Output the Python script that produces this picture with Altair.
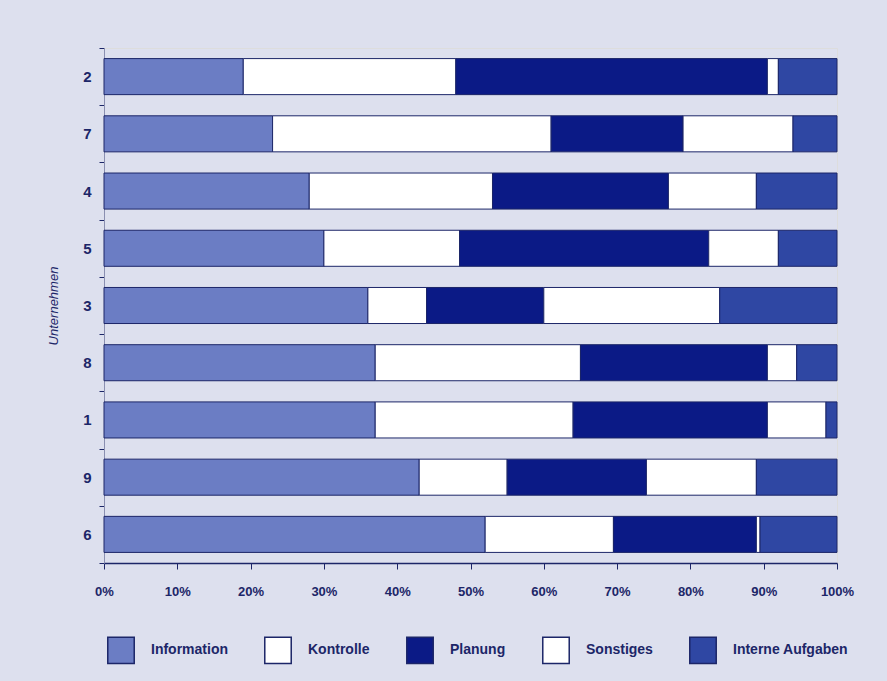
import altair as alt
import pandas as pd

companies = ["2", "7", "4", "5", "3", "8", "1", "9", "6"]
categories = ["Information", "Kontrolle", "Planung", "Sonstiges", "Interne Aufgaben"]
information = [19, 23, 28, 30, 36, 37, 37, 43, 52]
kontrolle = [29, 38, 25, 18.5, 8, 28, 27, 12, 17.5]
planung = [42.5, 18, 24, 34, 16, 25.5, 26.5, 19, 19.5]
sonstiges = [1.5, 15, 12, 9.5, 24, 4, 8, 15, 0.5]
interne = [8, 6, 11, 8, 16, 5.5, 1.5, 11, 10.5]
colors = ["#6b7dc4", "#ffffff", "#0b1a86", "#ffffff", "#2f47a3"]

series = [information, kontrolle, planung, sonstiges, interne]
rows = []
for ci, (cat, vals) in enumerate(zip(categories, series)):
    for comp, v in zip(companies, vals):
        rows.append({"Unternehmen": comp, "Kategorie": cat, "Wert": v, "Ordnung": ci})
df = pd.DataFrame(rows)

text_color = "#1c2668"

chart = alt.Chart(df).mark_bar(stroke="#1c2668", strokeWidth=1, height={"band": 0.63}).encode(
    y=alt.Y("Unternehmen:N", sort=companies,
            scale=alt.Scale(paddingInner=0, paddingOuter=0),
            axis=alt.Axis(title="Unternehmen", titleFontStyle="italic", titleFontWeight="normal",
                          titleFontSize=13, titleColor=text_color, titlePadding=22,
                          labelFontSize=15, labelFontWeight="bold", labelColor=text_color,
                          labelPadding=8, tickBand="extent", tickSize=5,
                          tickColor=text_color, domainColor="#8a8fb0", labelAngle=0)),
    x=alt.X("Wert:Q", stack="normalize",
            scale=alt.Scale(domain=[0, 1]),
            axis=alt.Axis(title=None, format="%", values=[i / 10 for i in range(11)],
                          labelFontSize=13, labelFontWeight="bold", labelColor=text_color,
                          labelPadding=16, labelFlush=False,
                          tickSize=6, tickColor=text_color, domainColor=text_color,
                          domainWidth=1.5, grid=False)),
    color=alt.Color("Kategorie:N", sort=categories,
                    scale=alt.Scale(domain=categories, range=colors),
                    legend=alt.Legend(title=None, orient="none", direction="horizontal",
                                      columns=5, legendX=3, legendY=588,
                                      symbolType="square", symbolSize=700,
                                      symbolStrokeColor="#1c2668", symbolStrokeWidth=1.5,
                                      labelFontSize=14, labelFontWeight="bold",
                                      labelColor=text_color,
                                      labelOffset=16, columnPadding=33)),
    order=alt.Order("Ordnung:Q", sort="ascending"),
).properties(
    width=733, height=515,
    background="#dde0ee",
    padding={"left": 104, "top": 48, "right": 50, "bottom": 118},
    autosize=alt.AutoSizeParams(type="none"),
).configure_view(
    fill="#ffffff", stroke="#8a8fb0", strokeWidth=1
).configure(
    font="Liberation Sans"
)

chart.save("out.html", embed_options={"renderer": "svg", "actions": False})
